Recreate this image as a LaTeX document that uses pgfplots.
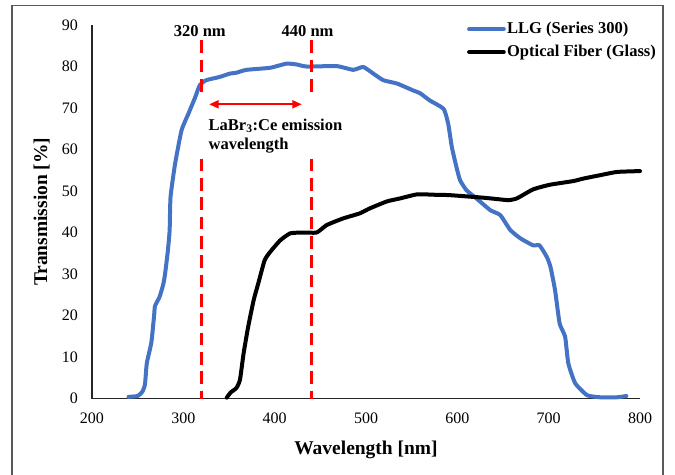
\documentclass[border=0pt]{standalone}
\usepackage{fontspec}
\setmainfont{Liberation Serif}
\usepackage{pgfplots}
\usepackage{pgfplotstable}
\pgfplotsset{compat=1.18}
\usetikzlibrary{arrows.meta}
\definecolor{llgblue}{RGB}{68,114,196}

% LLG (Series 300) transmission
\pgfplotstableread{
wl  T
240 0.4
250 0.6
255 1.6
258 3.4
260 8.5
265 13.5
268 20.0
269 22.3
274 24.5
278 27.5
280 30.0
283 35.5
285 40.5
286 48.6
291 56.6
298 64.6
305.5 68.6
313 72.6
318 75.5
325 76.7
340 77.5
351 78.3
358 78.5
369 79.2
395 79.7
413 80.7
424 80.5
435 80.0
468 80.1
486 79.2
497 79.9
508 78.3
519 76.7
534 75.9
552 74.2
559 73.6
570 71.8
585 69.8
590 66.2
594 60.6
599 55.8
603 52.6
610 50.2
621 48.2
636 45.4
647 44.2
658 40.6
669 38.6
683 36.9
690 36.9
698 34.1
702 31.7
707 26.1
712 18.1
718 14.9
721.5 8.5
729 3.7
742 0.8
756 0.3
775 0.3
785 0.6
}\llg

% Optical fiber (glass) transmission
\pgfplotstableread{
wl  T
347.5 0.2
352 1.5
358 2.5
362 4.5
366 10.9
371 17.3
377 23.7
382 27.7
389 33.3
395 35.3
406 38.1
417 39.8
431 40.0
446 40.0
457 41.8
475 43.4
493 44.6
504 45.8
523 47.5
537 48.2
556 49.2
575 49.1
592 49.0
628 48.4
646 48.0
656 47.8
665 48.2
683 50.4
701 51.5
727 52.4
738 53.0
756 53.8
775 54.6
800 54.8
}\glass

\begin{document}
\begin{tikzpicture}
\useasboundingbox (-69pt,-57.375pt) rectangle (437.25pt,298.875pt);
\draw[black!65, line width=0.8pt] (-60pt,-70pt) -- (-60pt,294.4pt) -- (428.25pt,294.4pt) -- (428.25pt,-70pt);
\begin{axis}[
  at={(0pt,0pt)}, anchor=south west,
  scale only axis, width=411pt, height=280.1pt,
  xmin=200, xmax=800, ymin=0, ymax=90,
  xtick={200,300,...,800}, ytick={0,10,...,90},
  axis lines=left, axis line style={-, line width=1.2pt, black!85},
  major tick length=0pt, tick style={draw=none},
  /pgf/number format/assume math mode=true,
  ticklabel style={font=\fontsize{12}{14}\selectfont},
  xticklabel style={yshift=-7pt},
  yticklabel style={xshift=-7pt},
  xlabel={Wavelength [nm]}, ylabel={Transmission [\%]},
  label style={font=\fontsize{14.6}{17}\selectfont\bfseries},
  xlabel style={at={(axis description cs:0.5,-0.138)}, anchor=center},
  ylabel style={at={(axis description cs:-0.0918,0.5)}, anchor=center},
  clip=false,
  legend style={at={(axis description cs:0.684,1.011)}, anchor=north west,
    draw=none, fill=none, inner sep=0pt, row sep=5pt,
    font=\fontsize{12.4}{14}\selectfont\bfseries,
    nodes={inner sep=1pt}},
  legend cell align=left,
  legend image code/.code={\draw[#1] (0pt,0pt) -- (26pt,0pt);},
]
\addplot[llgblue, line width=3pt, line join=round, line cap=round, smooth, tension=0.3] table[x=wl,y=T] {\llg};
\addlegendentry{LLG (Series 300)}
\addplot[black, line width=3pt, line join=round, line cap=round, smooth, tension=0.3] table[x=wl,y=T] {\glass};
\addlegendentry{Optical Fiber (Glass)}

\addplot[red, line width=2.5pt, dash pattern=on 9.5pt off 5pt, forget plot] coordinates {(320,86.3) (320,72.6)};
\addplot[red, line width=2.5pt, dash pattern=on 9.5pt off 5pt, forget plot] coordinates {(320,57.8) (320,0)};
\addplot[red, line width=2.5pt, dash pattern=on 9.5pt off 5pt, forget plot] coordinates {(440,86.3) (440,72.6)};
\addplot[red, line width=2.5pt, dash pattern=on 9.5pt off 5pt, forget plot] coordinates {(440,57.8) (440,0)};

\node[font=\fontsize{12.4}{14}\selectfont\bfseries] at (axis cs:318,88.5) {320 nm};
\node[font=\fontsize{12.4}{14}\selectfont\bfseries] at (axis cs:436,88.5) {440 nm};
\draw[red, line width=1.5pt, {Triangle[length=7pt,width=6pt]}-{Triangle[length=7pt,width=6pt]}] (axis cs:328.4,70.9) -- (axis cs:429.6,70.9);
\node[anchor=north west, inner sep=0pt, align=left, font=\fontsize{12.4}{14.3}\selectfont\bfseries] at (axis cs:327.4,67.4) {LaBr\textsubscript{3}:Ce emission\\wavelength};
\end{axis}
\end{tikzpicture}
\end{document}
